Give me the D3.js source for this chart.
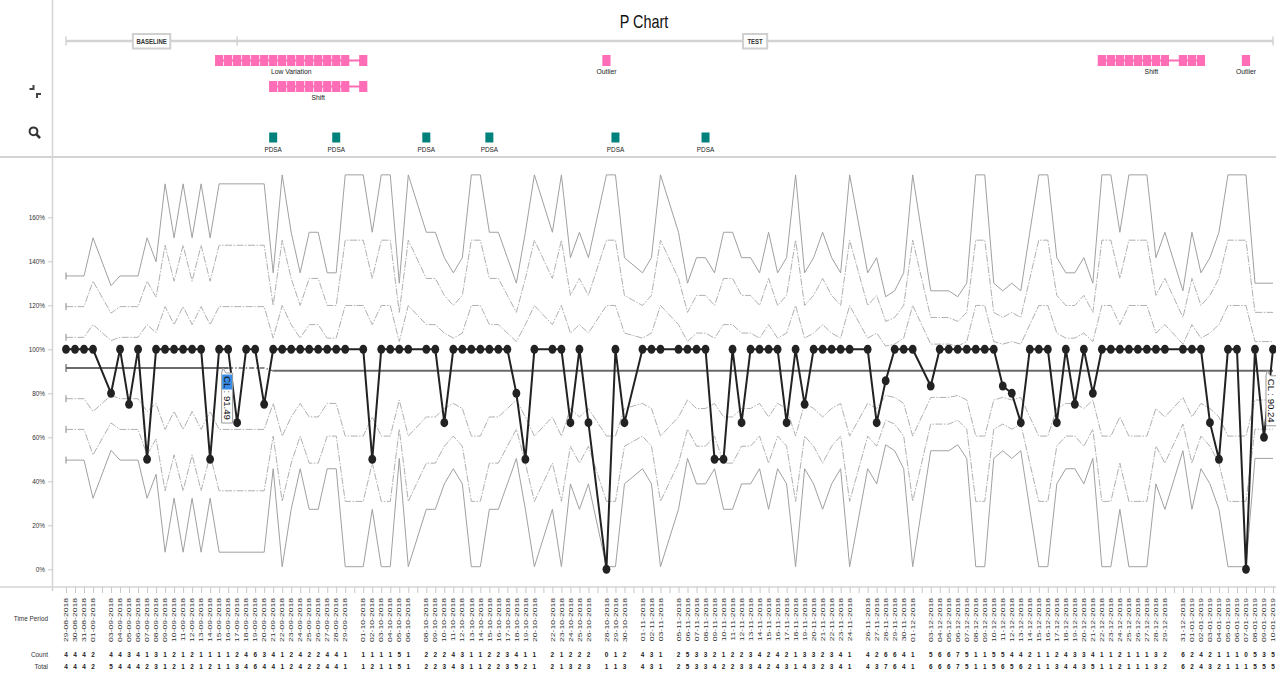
<!DOCTYPE html>
<html><head><meta charset="utf-8"><title>P Chart</title>
<script src="https://cdn.jsdelivr.net/npm/d3@7/dist/d3.min.js"></script>
<style>html,body{margin:0;padding:0;background:#fff;overflow:hidden}svg{display:block;font-family:"Liberation Sans",Arial,Helvetica,sans-serif}</style>
</head><body><svg id="chart" width="1276" height="679"></svg>
<script>
// ---------------- data ----------------
const dates = ["29-08-2018","30-08-2018","31-08-2018","01-09-2018","03-09-2018","04-09-2018","05-09-2018","06-09-2018","07-09-2018","08-09-2018","09-09-2018","10-09-2018","11-09-2018","12-09-2018","13-09-2018","14-09-2018","15-09-2018","16-09-2018","17-09-2018","18-09-2018","19-09-2018","20-09-2018","21-09-2018","22-09-2018","23-09-2018","24-09-2018","25-09-2018","26-09-2018","27-09-2018","28-09-2018","29-09-2018",
"01-10-2018","02-10-2018","03-10-2018","04-10-2018","05-10-2018","06-10-2018","08-10-2018","09-10-2018","10-10-2018","11-10-2018","12-10-2018","13-10-2018","14-10-2018","15-10-2018","16-10-2018","17-10-2018","18-10-2018","19-10-2018","20-10-2018","22-10-2018","23-10-2018","24-10-2018","25-10-2018","26-10-2018","28-10-2018","29-10-2018","30-10-2018",
"01-11-2018","02-11-2018","03-11-2018","05-11-2018","06-11-2018","07-11-2018","08-11-2018","09-11-2018","10-11-2018","11-11-2018","12-11-2018","13-11-2018","14-11-2018","15-11-2018","16-11-2018","17-11-2018","18-11-2018","19-11-2018","20-11-2018","21-11-2018","22-11-2018","23-11-2018","24-11-2018","26-11-2018","27-11-2018","28-11-2018","29-11-2018","30-11-2018",
"01-12-2018","03-12-2018","04-12-2018","05-12-2018","06-12-2018","07-12-2018","08-12-2018","09-12-2018","10-12-2018","11-12-2018","12-12-2018","13-12-2018","14-12-2018","15-12-2018","16-12-2018","17-12-2018","18-12-2018","19-12-2018","20-12-2018","21-12-2018","22-12-2018","23-12-2018","24-12-2018","25-12-2018","26-12-2018","27-12-2018","28-12-2018","29-12-2018","31-12-2018",
"01-01-2019","02-01-2019","03-01-2019","04-01-2019","05-01-2019","06-01-2019","07-01-2019","08-01-2019","09-01-2019","10-01-2019"];
const counts = [4,4,4,2,4,4,3,4,1,3,1,2,1,2,1,1,1,1,2,4,6,3,4,1,2,4,2,2,4,4,1,
1,1,1,1,5,1,2,2,2,4,3,1,1,2,2,3,4,1,1,2,1,2,2,2,0,1,2,
4,3,1,2,5,3,3,2,1,2,2,3,4,2,4,2,1,3,3,2,3,4,1,4,2,6,6,4,
1,5,6,6,7,5,1,1,5,5,4,4,2,1,1,2,4,3,3,4,1,1,2,1,1,1,3,2,6,
2,4,2,1,1,1,0,5,3,5];
const totals = [4,4,4,2,5,4,4,4,2,3,1,2,1,2,1,2,1,1,3,4,6,4,4,1,2,4,2,2,4,4,1,
1,2,1,1,5,1,2,2,3,4,3,1,1,2,2,3,5,2,1,2,1,3,2,3,1,1,3,
4,3,1,2,5,3,3,4,2,2,3,3,4,2,4,3,1,4,3,2,3,4,1,4,3,7,6,4,
1,6,6,6,7,5,1,1,5,6,5,6,2,1,1,3,4,4,3,5,1,1,2,1,1,1,3,2,6,
2,4,3,2,1,1,1,5,5,5];
const yTickValues = [0,0.2,0.4,0.6,0.8,1.0,1.2,1.4,1.6];
const baselineRange = ["29-08-2018","16-09-2018"];
const testRange = ["21-09-2018","10-01-2019"];
const phaseNames = ["BASELINE","TEST"];
const phaseBreak = "17-09-2018";
const ruleNames = ["Low Variation","Shift","Outlier","Shift","Outlier"];
const ruleFrom  = ["15-09-2018","21-09-2018","28-10-2018","22-12-2018","07-01-2019"];
const ruleTo    = ["01-10-2018","01-10-2018","28-10-2018","02-01-2019","07-01-2019"];
const pdsaDates = ["21-09-2018","28-09-2018","08-10-2018","15-10-2018","29-10-2018","08-11-2018"];
const sigmaLevels = [3,2,1];

// ---------------- setup ----------------
const svg = d3.select("#chart");
const W = 1276, H = 679;
const parse = d3.utcParse("%d-%m-%Y");
const pts = dates.map((d,i)=>({label:d, date:parse(d), c:counts[i], n:totals[i], p:counts[i]/totals[i]}));
const first = pts[0].date, last = pts[pts.length-1].date;
const x = d3.scaleUtc().domain([first,last]).range([66,1273]);
const y = d3.scaleLinear().domain([0,1.8]).range([569.3,173.3]);

function T(g, px, py, s, o={}) {
  return g.append("text")
    .attr("transform", `translate(${px},${py}) scale(${o.sx ?? 0.82},1)`)
    .attr("text-anchor", o.anchor || "middle")
    .attr("font-size", o.size || 8)
    .attr("font-weight", o.weight || "normal")
    .attr("fill", o.fill || "#222")
    .text(s);
}

// phases / control limits
const bEnd = parse(baselineRange[1]), tStart = parse(testRange[0]);
const base = pts.filter(p=>p.date<=bEnd), test = pts.filter(p=>p.date>=tStart);
const cl0 = d3.sum(base,d=>d.c)/d3.sum(base,d=>d.n);
const cl1 = d3.sum(test,d=>d.c)/d3.sum(test,d=>d.n);
const lastBase = base[base.length-1];
pts.forEach(p=>{
  if (p.date<=bEnd) { p.cl=cl0; p.ln=p.n; }
  else if (p.date<tStart) { p.cl=cl0; p.ln=lastBase.n; }
  else { p.cl=cl1; p.ln=p.n; }
  p.s = Math.sqrt(p.cl*(1-p.cl)/p.ln);
});

// ---------------- frame ----------------
const frame = svg.append("g");
frame.append("line").attr("x1",52.5).attr("x2",52.5).attr("y1",0).attr("y2",591).attr("stroke","#d4d4d4").attr("stroke-width",1.5);
frame.append("line").attr("x1",0).attr("x2",W).attr("y1",157).attr("y2",157).attr("stroke","#d4d4d4").attr("stroke-width",2);
frame.append("line").attr("x1",0).attr("x2",W).attr("y1",587).attr("y2",587).attr("stroke","#d4d4d4").attr("stroke-width",1.5);

// icons
frame.append("path").attr("d","M29.5,89 H33.5 V85 M37,98 V94 H41").attr("fill","none").attr("stroke","#444").attr("stroke-width",2);
frame.append("circle").attr("cx",33.5).attr("cy",131.3).attr("r",3.9).attr("fill","none").attr("stroke","#333").attr("stroke-width",2);
frame.append("line").attr("x1",36.3).attr("y1",134.2).attr("x2",40).attr("y2",138.2).attr("stroke","#333").attr("stroke-width",2.6);

// title
T(svg, 644, 28, "P Chart", {size:18, sx:0.8, fill:"#111"});

// ---------------- phase bar ----------------
const pb = svg.append("g");
const xb = x(parse(phaseBreak));
pb.append("line").attr("x1",x(first)).attr("x2",x(last)).attr("y1",41).attr("y2",41).attr("stroke","#d3d3d3").attr("stroke-width",2.5);
[x(first), xb, x(last)].forEach(v=>pb.append("line").attr("x1",v).attr("x2",v).attr("y1",36.5).attr("y2",45.5).attr("stroke","#d3d3d3").attr("stroke-width",1.5));
[[x(first),xb],[xb,x(last)]].forEach((r,i)=>{
  const cx=(r[0]+r[1])/2, w = phaseNames[i].length*3.3+11;
  pb.append("rect").attr("x",cx-w/2).attr("y",34).attr("width",w).attr("height",14.5).attr("fill","#fff").attr("stroke","#d0d0d0").attr("stroke-width",2);
  T(pb, cx, 44, phaseNames[i], {size:7.5, sx:0.8, weight:"bold", fill:"#333"});
});

// ---------------- rule annotations ----------------
const rules = svg.append("g");
const rowEnds = [];
ruleNames.forEach((nm,i)=>{
  const f=parse(ruleFrom[i]), t=parse(ruleTo[i]);
  let row=0; while(rowEnds[row]!==undefined && rowEnds[row]>=f) row++;
  rowEnds[row]=t;
  const sel = pts.filter(p=>p.date>=f && p.date<=t);
  const top = 55 + row*26;
  const x0=x(sel[0].date), x1=x(sel[sel.length-1].date);
  rules.append("line").attr("x1",x0).attr("x2",x1).attr("y1",top+5.5).attr("y2",top+5.5).attr("stroke","#ff6db6").attr("stroke-width",2);
  sel.forEach(p=>rules.append("rect").attr("x",x(p.date)-4.1).attr("y",top).attr("width",8.2).attr("height",11).attr("fill","#ff6db6"));
  T(rules, (x0+x1)/2, top+19, nm, {size:8, sx:0.85, fill:"#222"});
});
pdsaDates.forEach(d=>{
  const px = x(parse(d));
  rules.append("rect").attr("x",px-4).attr("y",132.5).attr("width",8).attr("height",10).attr("fill","#00827c");
  T(rules, px, 151.5, "PDSA", {size:8, sx:0.8, fill:"#222"});
});

// ---------------- axes ----------------
const yAxis = d3.axisLeft(y).tickValues(yTickValues).tickSize(4).tickFormat("");
const yg = svg.append("g").attr("transform","translate(52,0)").call(yAxis);
yg.select(".domain").remove();
yg.selectAll(".tick line").attr("stroke","#c8c8c8");
yTickValues.forEach(v=>T(svg, 45, y(v)+2.6, d3.format(".0%")(v), {size:8, sx:0.8, anchor:"end", fill:"#333"}));

const xAxis = d3.axisBottom(x).ticks(d3.utcDay.every(1)).tickSize(6).tickFormat("");
const xg = svg.append("g").attr("transform","translate(0,587)").call(xAxis);
xg.select(".domain").remove();
xg.selectAll(".tick line").attr("stroke","#c8c8c8");

const lab = svg.append("g");
pts.forEach(p=>{
  const px = x(p.date);
  lab.append("text").attr("transform",`translate(${px},598) scale(0.72,1) rotate(-90)`)
    .attr("text-anchor","end").attr("dy","0.35em").attr("font-size",8.6).attr("fill","#333").text(p.label);
  T(lab, px, 657, p.c, {size:8, sx:0.8, fill:"#222", weight:"bold"});
  T(lab, px, 668.5, p.n, {size:8, sx:0.8, fill:"#222", weight:"bold"});
});
T(lab, 48, 621, "Time Period", {size:8, sx:0.8, anchor:"end", fill:"#333"});
T(lab, 48, 657, "Count", {size:8, sx:0.8, anchor:"end", fill:"#333"});
T(lab, 48, 668.5, "Total", {size:8, sx:0.8, anchor:"end", fill:"#333"});

// ---------------- limits ----------------
const plot = svg.append("g");
sigmaLevels.forEach(k=>{
  [1,-1].forEach(sg=>{
    const ln = d3.line().x(p=>x(p.date)).y(p=>y(p.cl+sg*k*p.s));
    plot.append("path").datum(pts).attr("d",ln).attr("fill","none")
      .attr("stroke", k===3 ? "#a0a0a0" : "#b0b0b0").attr("stroke-width",1)
      .attr("stroke-dasharray", k===3 ? null : "7,1.5,1.5,1.5");
    plot.append("line").attr("x1",x(first)).attr("x2",x(first))
      .attr("y1",y(pts[0].cl+sg*k*pts[0].s)-3.5).attr("y2",y(pts[0].cl+sg*k*pts[0].s)+3.5)
      .attr("stroke","#888").attr("stroke-width",1);
  });
});
// center lines
const clLine = d3.line().x(d=>x(d[0])).y(d=>y(d[1]));
const gapPts = pts.filter(p=>p.date>=bEnd && p.date<tStart);
plot.append("path").attr("d",clLine([[first,cl0],[bEnd,cl0]])).attr("stroke","#6a6a6a").attr("stroke-width",2).attr("fill","none");
plot.append("path").attr("d",clLine(gapPts.map(p=>[p.date,cl0]).concat([[tStart,cl1]]))).attr("stroke","#6a6a6a").attr("stroke-width",1.3).attr("stroke-dasharray","5,2,1.5,2").attr("fill","none");
plot.append("path").attr("d",clLine([[tStart,cl1],[last,cl1]])).attr("stroke","#6a6a6a").attr("stroke-width",2).attr("fill","none");
plot.append("line").attr("x1",x(first)).attr("x2",x(first)).attr("y1",y(cl0)-4).attr("y2",y(cl0)+4).attr("stroke","#666").attr("stroke-width",1.2);

// ---------------- data ----------------
plot.append("path").datum(pts).attr("d", d3.line().x(p=>x(p.date)).y(p=>y(p.p)))
  .attr("fill","none").attr("stroke","#222").attr("stroke-width",2);
plot.selectAll("ellipse.pt").data(pts).join("ellipse").attr("class","pt")
  .attr("cx",p=>x(p.date)).attr("cy",p=>y(p.p)).attr("rx",3.9).attr("ry",4.5).attr("fill","#222");

// ---------------- CL labels ----------------
function clLabel(cx, cl, highlight) {
  const top = y(cl)+5;
  const g = svg.append("g").attr("transform",`translate(${cx},${top})`);
  g.append("path").attr("d","M-5.5,0 L-4.2,-5 L-1.2,0 L5.5,0 L5.5,50 L-5.5,50 Z").attr("fill","#fff").attr("stroke","#9a9a9a").attr("stroke-width",1);
  if (highlight) g.append("rect").attr("x",-5).attr("y",1.5).attr("width",10).attr("height",15).attr("fill","#3a8ee8");
  g.append("text").attr("transform","translate(0,3) rotate(90)").attr("dy","0.36em").attr("font-size",9.6).attr("fill","#111")
    .text("CL : " + (cl*100).toFixed(2));
}
clLabel(x(bEnd)-1, cl0, true);
clLabel(x(last)-1.5, cl1, false);
</script></body></html>
